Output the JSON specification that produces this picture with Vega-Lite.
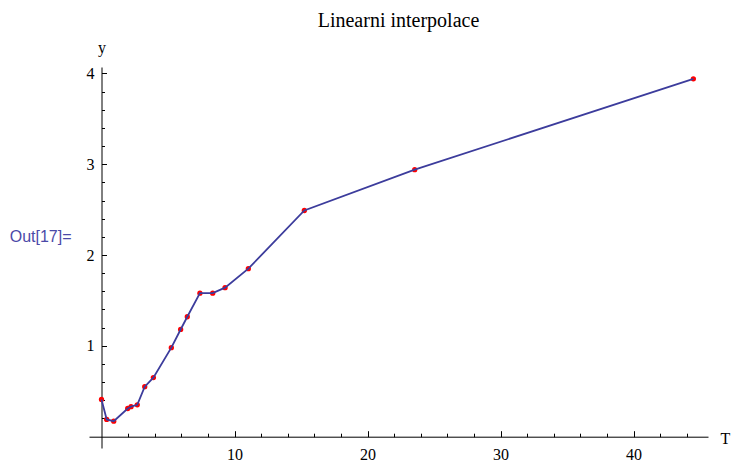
{
  "$schema": "https://vega.github.io/schema/vega-lite/v6.json",
  "width": 619,
  "height": 381,
  "autosize": {"type": "none"},
  "padding": {"left": 89, "top": 67, "right": 23, "bottom": 18},
  "background": "white",
  "title": {"text": "Linearni interpolace", "font": "Liberation Serif", "fontSize": 20, "fontWeight": "normal", "color": "black", "anchor": "middle", "frame": "group", "offset": 8},
  "config": {"view": {"stroke": null}},
  "datasets": {
    "pts": [
      {"T": 0, "y": 0.41},
      {"T": 0.39, "y": 0.19},
      {"T": 0.92, "y": 0.17},
      {"T": 1.97, "y": 0.31},
      {"T": 2.22, "y": 0.33},
      {"T": 2.69, "y": 0.35},
      {"T": 3.25, "y": 0.55},
      {"T": 3.9, "y": 0.65},
      {"T": 5.25, "y": 0.98},
      {"T": 5.95, "y": 1.18},
      {"T": 6.45, "y": 1.32},
      {"T": 7.4, "y": 1.58},
      {"T": 8.36, "y": 1.58},
      {"T": 9.29, "y": 1.64},
      {"T": 11.04, "y": 1.85},
      {"T": 15.25, "y": 2.49},
      {"T": 23.55, "y": 2.94},
      {"T": 44.5, "y": 3.94}
    ],
    "lbl": [{"label": "Out[17]=", "T": -6.9, "y": 2.2}]
  },
  "resolve": {"axis": {"x": "independent", "y": "independent"}},
  "layer": [
    {
      "data": {"name": "pts"},
      "mark": {"type": "circle", "size": 28, "color": "#ff0000", "opacity": 1},
      "encoding": {
        "x": {
          "field": "T", "type": "quantitative",
          "scale": {"domain": [-0.94, 45.6], "nice": false, "zero": false},
          "axis": {
            "orient": "bottom",
            "offset": -11.3,
            "values": [2,4,6,8,12,14,16,18,22,24,26,28,32,34,36,38,42,44],
            "grid": false, "labels": false, "title": null,
            "domain": false,
            "tickColor": "black", "tickWidth": 1, "tickSize": -3.5
          }
        },
        "y": {
          "field": "y", "type": "quantitative",
          "scale": {"domain": [-0.125, 4.07], "nice": false, "zero": false},
          "axis": {
            "orient": "left",
            "offset": -12.5,
            "values": [0.2,0.4,0.6,0.8,1.2,1.4,1.6,1.8,2.2,2.4,2.6,2.8,3.2,3.4,3.6,3.8],
            "grid": false, "labels": false, "title": null,
            "domain": false,
            "tickColor": "black", "tickWidth": 1, "tickSize": -3
          }
        }
      }
    },
    {
      "data": {"name": "pts"},
      "mark": {"type": "line", "color": "#3c3c9c", "strokeWidth": 1.8},
      "encoding": {
        "x": {
          "field": "T", "type": "quantitative",
          "axis": {
            "orient": "bottom",
            "offset": -11.3,
            "values": [10, 20, 30, 40],
            "grid": false,
            "domainColor": "black", "domainWidth": 1,
            "tickColor": "black", "tickWidth": 1, "tickSize": -6,
            "format": "d",
            "labelFont": "Liberation Serif", "labelFontSize": 16, "labelColor": "black", "labelPadding": 16,
            "labelOverlap": false, "labelFlush": false,
            "title": "T", "titleFont": "Liberation Serif", "titleFontSize": 16, "titleFontWeight": "normal", "titleColor": "black",
            "titleX": 631, "titleY": 7, "titleAlign": "left", "titleBaseline": "alphabetic", "titleAngle": 0
          }
        },
        "y": {
          "field": "y", "type": "quantitative",
          "axis": {
            "orient": "left",
            "offset": -12.5,
            "values": [1, 2, 3, 4],
            "grid": false,
            "domainColor": "black", "domainWidth": 1,
            "tickColor": "black", "tickWidth": 1, "tickSize": -5,
            "format": "d",
            "labelFont": "Liberation Serif", "labelFontSize": 16, "labelColor": "black", "labelPadding": 12.4,
            "labelOverlap": false, "labelFlush": false,
            "title": "y", "titleFont": "Liberation Serif", "titleFontSize": 16, "titleFontWeight": "normal", "titleColor": "black",
            "titleX": 0, "titleY": -15, "titleAlign": "center", "titleBaseline": "alphabetic", "titleAngle": 0
          }
        }
      }
    },
    {
      "data": {"name": "lbl"},
      "mark": {"type": "text", "align": "left", "baseline": "middle", "font": "Liberation Sans", "fontSize": 16, "color": "#4a4aa8"},
      "encoding": {
        "x": {"field": "T", "type": "quantitative", "axis": null},
        "y": {"field": "y", "type": "quantitative", "axis": null},
        "text": {"field": "label"}
      }
    }
  ]
}
